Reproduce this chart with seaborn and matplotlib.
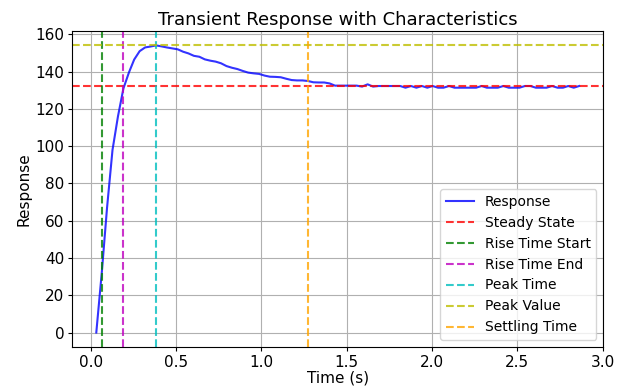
import matplotlib
matplotlib.use("Agg")
import matplotlib.pyplot as plt
import numpy as np
import pandas as pd
import seaborn as sns

time_s = [0.032, 0.064, 0.095, 0.127, 0.159, 0.191, 0.223, 0.254, 0.286, 0.318,
          0.350, 0.382, 0.413, 0.445, 0.477, 0.509, 0.541, 0.572, 0.604, 0.636,
          0.668, 0.700, 0.731, 0.763, 0.795, 0.827, 0.859, 0.890, 0.922, 0.954,
          0.986, 1.018, 1.049, 1.081, 1.113, 1.145, 1.177, 1.208, 1.240, 1.272,
          1.304, 1.336, 1.367, 1.399, 1.431, 1.463, 1.495, 1.526, 1.558, 1.590,
          1.622, 1.654, 1.685, 1.717, 1.749, 1.781, 1.813, 1.844, 1.876, 1.908,
          1.940, 1.972, 2.003, 2.035, 2.067, 2.099, 2.131, 2.162, 2.194, 2.226,
          2.258, 2.290, 2.321, 2.353, 2.385, 2.417, 2.449, 2.480, 2.512, 2.544,
          2.576, 2.608, 2.639, 2.671, 2.703, 2.735, 2.767, 2.798, 2.830, 2.862]
response = [0, 32, 67, 98, 116, 131, 139.5, 146.5, 151, 153,
            153.5, 154.1, 153.6, 153, 152.5, 152, 150.7, 149.8, 148.5, 148,
            146.6, 145.9, 145.4, 144.5, 143, 142.1, 141.4, 140.4, 139.5, 139.1,
            138.8, 137.9, 137.3, 137.2, 137, 136.2, 135.5, 135.3, 135.3, 135,
            134.3, 134.2, 134.2, 133.7, 132.5, 132.5, 132.5, 132.5, 132.5, 132,
            133.2, 132, 132.3, 132.3, 132.3, 132.3, 132.3, 131.4, 132.3, 131.4,
            132.3, 131.4, 132.3, 131.4, 131.4, 132.3, 131.4, 131.4, 131.4, 131.4,
            131.4, 132.3, 131.4, 131.4, 131.4, 132.3, 131.4, 131.4, 131.4, 132.3,
            132.3, 131.4, 131.4, 131.4, 132.3, 131.4, 131.4, 132.3, 131.4, 132.3]

steady_state = 132.3
rise_start = 0.064
rise_end = 0.191
peak_time = 0.382
peak_value = 154.1
settling_time = 1.272

df = pd.DataFrame({'time': time_s, 'response': response})

fig, ax = plt.subplots(figsize=(6.22, 3.88), dpi=100)
fig.subplots_adjust(left=0.116, right=0.970, top=0.920, bottom=0.106)

sns.lineplot(data=df, x='time', y='response', ax=ax, color='b', alpha=0.8,
             linewidth=1.5, label='Response')
ax.axhline(steady_state, color='r', linestyle='--', alpha=0.8, label='Steady State')
ax.axvline(rise_start, color='g', linestyle='--', alpha=0.8, label='Rise Time Start')
ax.axvline(rise_end, color='m', linestyle='--', alpha=0.8, label='Rise Time End')
ax.axvline(peak_time, color='c', linestyle='--', alpha=0.8, label='Peak Time')
ax.axhline(peak_value, color='y', linestyle='--', alpha=0.8, label='Peak Value')
ax.axvline(settling_time, color='orange', linestyle='--', alpha=0.8, label='Settling Time')

ax.set_title('Transient Response with Characteristics', fontsize=13, pad=4)
ax.set_xlabel('Time (s)', fontsize=11, labelpad=1)
ax.set_ylabel('Response', fontsize=11, labelpad=3)
ax.tick_params(labelsize=11, length=3, pad=2.5)
ax.grid(True)
ax.legend(loc='lower right', fontsize=10)

fig.savefig('out.png', dpi=100)
